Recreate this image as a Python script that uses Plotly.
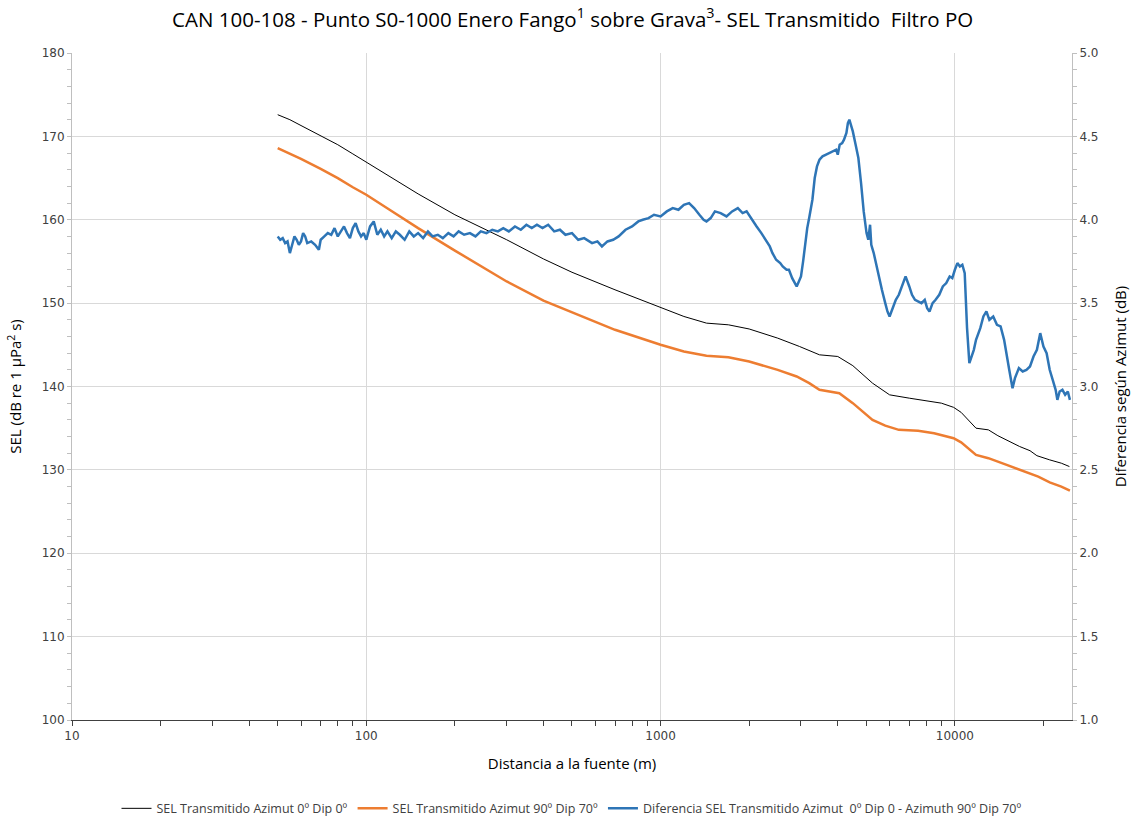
import plotly.graph_objects as go

# ---- data ----
black_x = [50, 55, 60, 70, 80, 90, 100, 120, 150, 200, 268, 300, 400, 500, 700, 1000, 1200, 1432,
           1700, 2000, 2500, 2965, 3467, 4000, 4500, 5250, 6000, 7000, 8000, 9000, 9900, 10500,
           11800, 13000, 14000, 16600, 18000, 19000, 21000, 23000, 24500]
black_y = [172.6, 172.0, 171.3, 170.1, 169.0, 167.9, 166.9, 165.2, 163.1, 160.6, 158.5, 157.6, 155.3,
           153.7, 151.6, 149.5, 148.4, 147.6, 147.4, 146.9, 145.8, 144.8, 143.8, 143.6, 142.5, 140.4,
           139.0, 138.6, 138.3, 138.0, 137.5, 136.9, 135.0, 134.8, 134.1, 132.8, 132.3, 131.7, 131.2,
           130.8, 130.4]

orange_x = [50, 60, 70, 80, 90, 100, 120, 150, 200, 268, 300, 400, 500, 700, 1000, 1200, 1432, 1700,
            2000, 2500, 2900, 3200, 3467, 4050, 4500, 5250, 5800, 6450, 7500, 8500, 9900, 10500,
            11800, 13000, 15000, 17000, 19200, 21000, 23000, 24600]
orange_y = [168.6, 167.3, 166.1, 165.0, 163.9, 163.0, 161.2, 159.0, 156.3, 153.6, 152.6, 150.3, 148.9,
            146.8, 145.0, 144.2, 143.7, 143.5, 143.0, 142.0, 141.2, 140.4, 139.6, 139.2, 138.0, 136.0,
            135.3, 134.8, 134.7, 134.4, 133.8, 133.3, 131.8, 131.4, 130.6, 129.9, 129.2, 128.5, 128.0,
            127.5]

blue_x = [50, 51, 52, 53, 54, 55, 56, 57, 58, 59, 60, 61, 62, 63, 65, 67, 69, 70, 72, 74, 76, 78, 80,
          82, 84, 86, 88, 90, 92, 94, 96, 98, 100, 103, 106, 109, 112, 115, 118, 122, 126, 130, 135,
          140, 145, 150, 156, 162, 168, 175, 182, 190, 198, 206, 215, 225, 235, 245, 256, 268, 280,
          292, 305, 320, 335, 350, 365, 380, 397, 415, 435, 455, 475, 500, 525, 550, 585, 610, 632,
          660, 690, 720, 760, 800, 840, 870, 910, 950, 1000, 1050, 1100, 1150, 1200, 1250, 1300, 1355,
          1400, 1432, 1480, 1530, 1600, 1675, 1750, 1830, 1900, 1960, 2040, 2120, 2200, 2290, 2350,
          2400, 2470, 2550, 2600, 2680, 2730, 2800, 2870, 2900, 2950, 3000, 3050, 3100, 3150, 3205,
          3280, 3340, 3400, 3467, 3550, 3650, 3750, 3850, 3950, 4000, 4060, 4140, 4200, 4280, 4330,
          4380, 4430, 4500, 4600, 4700, 4800, 4900, 5010, 5080, 5150, 5200, 5300, 5400, 5500, 5650,
          5800, 5900, 6000, 6150, 6300, 6450, 6600, 6800, 7000, 7150, 7320, 7500, 7700, 7900, 8050,
          8200, 8400, 8600, 8850, 9100, 9350, 9600, 9800, 10000, 10200, 10400, 10600, 10800, 11000,
          11200, 11400, 11600, 11800, 12200, 12500, 12800, 13100, 13500, 13900, 14300, 14700, 15000,
          15300, 15700, 16000, 16500, 17000, 17500, 18000, 18500, 19000, 19500, 20000, 20500, 21000,
          21500, 22000, 22300, 22700, 23200, 23700, 24200, 24600]
blue_y = [3.90, 3.88, 3.89, 3.86, 3.87, 3.80, 3.85, 3.90, 3.88, 3.85, 3.87, 3.92, 3.90, 3.86, 3.87,
          3.85, 3.82, 3.88, 3.90, 3.92, 3.91, 3.95, 3.90, 3.93, 3.96, 3.92, 3.89, 3.95, 3.98, 3.93,
          3.90, 3.92, 3.88, 3.96, 3.99, 3.91, 3.94, 3.90, 3.93, 3.89, 3.93, 3.91, 3.88, 3.93, 3.90,
          3.92, 3.89, 3.93, 3.90, 3.91, 3.89, 3.92, 3.90, 3.93, 3.91, 3.92, 3.90, 3.93, 3.92, 3.94,
          3.93, 3.95, 3.93, 3.96, 3.94, 3.97, 3.95, 3.97, 3.95, 3.97, 3.93, 3.94, 3.91, 3.92, 3.88,
          3.89, 3.86, 3.87, 3.84, 3.87, 3.88, 3.90, 3.94, 3.96, 3.99, 4.00, 4.01, 4.03, 4.02, 4.05,
          4.07, 4.06, 4.09, 4.10, 4.07, 4.03, 4.00, 3.99, 4.01, 4.05, 4.04, 4.02, 4.05, 4.07, 4.04,
          4.05, 4.00, 3.96, 3.92, 3.87, 3.84, 3.80, 3.76, 3.74, 3.72, 3.70, 3.70, 3.65, 3.62, 3.60,
          3.63, 3.66, 3.75, 3.85, 3.95, 4.02, 4.12, 4.25, 4.32, 4.36, 4.38, 4.39, 4.40, 4.41, 4.42,
          4.39, 4.45, 4.46, 4.48, 4.52, 4.58, 4.60, 4.57, 4.53, 4.45, 4.37, 4.22, 4.05, 3.92, 3.88,
          3.97, 3.85, 3.80, 3.73, 3.66, 3.58, 3.50, 3.45, 3.42, 3.47, 3.52, 3.55, 3.60, 3.66, 3.60,
          3.55, 3.52, 3.51, 3.50, 3.52, 3.47, 3.45, 3.50, 3.52, 3.55, 3.60, 3.62, 3.66, 3.65, 3.70,
          3.74, 3.72, 3.73, 3.68, 3.35, 3.14, 3.18, 3.22, 3.28, 3.35, 3.42, 3.45, 3.40, 3.42, 3.37,
          3.36, 3.28, 3.20, 3.10, 2.99, 3.05, 3.11, 3.09, 3.10, 3.12, 3.18, 3.22, 3.32, 3.24, 3.20,
          3.10, 3.04, 2.98, 2.92, 2.97, 2.98, 2.95, 2.97, 2.92]

names = ["SEL Transmitido Azimut 0º Dip 0º",
         "SEL Transmitido Azimut 90º Dip 70º",
         "Diferencia SEL Transmitido Azimut  0º Dip 0 - Azimuth 90º Dip 70º"]

x_major = [10, 100, 1000, 10000]
x_minor = [m * d for d in (10, 100, 1000) for m in range(2, 10)] + [20000]

fig = go.Figure()
fig.add_trace(go.Scatter(x=black_x, y=black_y, mode="lines", name=names[0],
                         line=dict(color="#000000", width=1)))
fig.add_trace(go.Scatter(x=orange_x, y=orange_y, mode="lines", name=names[1],
                         line=dict(color="#ED7D31", width=2.5)))
fig.add_trace(go.Scatter(x=blue_x, y=blue_y, mode="lines", name=names[2], yaxis="y2",
                         line=dict(color="#2E75B6", width=2.5)))

tickfont = dict(family="DejaVu Sans", size=12, color="#404040")
titlefont = dict(family="Open Sans", size=15, color="#000000")

fig.update_layout(
    width=1134, height=820,
    paper_bgcolor="white", plot_bgcolor="white",
    margin=dict(l=72, r=62, t=53, b=100, autoexpand=False),
    title=dict(text="CAN 100-108 - Punto S0-1000 Enero Fango<sup>1</sup> sobre Grava<sup>3</sup>- SEL Transmitido  Filtro PO",
               x=0.505, xanchor="center", y=0.976, yanchor="middle",
               font=dict(family="Open Sans", size=20.5, color="#000000")),
    xaxis=dict(type="log", range=[1, 4.398], tickvals=x_major,
               ticktext=[str(v) for v in x_major], tickfont=tickfont,
               showgrid=True, gridcolor="#d9d9d9", gridwidth=1,
               showline=True, linecolor="#404040", linewidth=1,
               ticks="outside", ticklen=5, tickcolor="#404040",
               minor=dict(ticks="outside", ticklen=5, tickcolor="#404040", tickmode="array",
                          tickvals=x_minor, showgrid=False),
               title=dict(text="Distancia a la fuente (m)", font=titlefont, standoff=16),
               zeroline=False, automargin=False),
    yaxis=dict(range=[100, 180], dtick=10, tickfont=tickfont,
               showgrid=True, gridcolor="#d9d9d9", gridwidth=1,
               showline=True, linecolor="#bfbfbf", linewidth=1,
               ticks="outside", ticklen=4, tickcolor="#bfbfbf",
               minor=dict(ticks="outside", ticklen=4, tickcolor="#bfbfbf", dtick=2, showgrid=False),
               title=dict(text="SEL (dB re 1 µPa<sup>2</sup> s)", font=titlefont, standoff=16),
               zeroline=False, automargin=False),
    yaxis2=dict(range=[1, 5], dtick=0.5, tickformat=".1f", tickfont=tickfont,
                overlaying="y", side="right", showgrid=False,
                showline=True, linecolor="#bfbfbf", linewidth=1,
                ticks="outside", ticklen=4, tickcolor="#bfbfbf",
                minor=dict(ticks="outside", ticklen=4, tickcolor="#bfbfbf", dtick=0.1, showgrid=False),
                title=dict(text="Diferencia según Azimut (dB)", font=titlefont, standoff=18),
                zeroline=False, automargin=False),
    legend=dict(orientation="h", x=0.5, xanchor="center", y=-0.133, yanchor="middle",
                font=dict(family="Open Sans", size=12.5, color="#404040"),
                traceorder="normal"),
    showlegend=True,
)

fig.write_html("out.html", config={"displayModeBar": False},
               post_script="document.body.style.margin='0';document.body.style.overflow='hidden';")
